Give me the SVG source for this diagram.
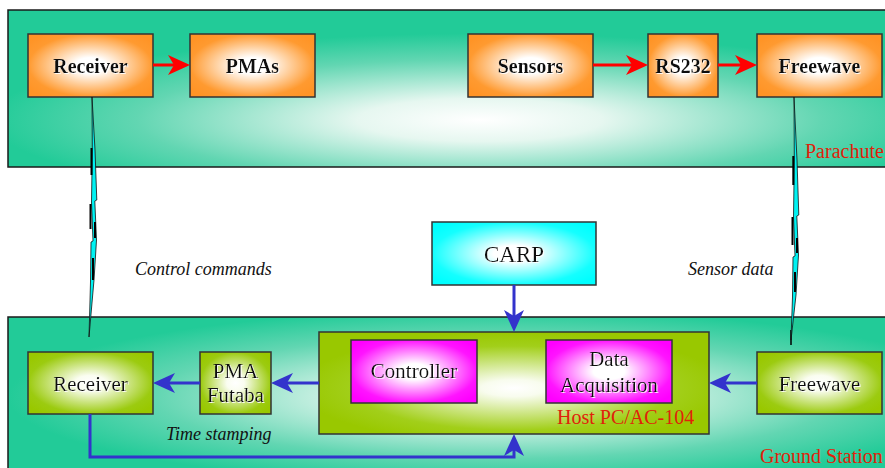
<svg xmlns="http://www.w3.org/2000/svg" width="885" height="468" viewBox="0 0 885 468">
  <style>
    .panel { stroke: #1a1a1a; stroke-width: 1.5; }
    .box { stroke: #333333; stroke-width: 1.5; }
    .bold { font-family: "Liberation Serif", "Times New Roman", serif; font-size: 20px; font-weight: bold; fill: #111111; text-anchor: middle; filter: url(#glow); }
    .lbl { font-family: "Liberation Serif", "Times New Roman", serif; font-size: 21px; fill: #111111; text-anchor: middle; filter: url(#glow); }
    .note { font-family: "Liberation Serif", "Times New Roman", serif; font-size: 18px; font-style: italic; fill: #111111; }
    .tag { font-family: "Liberation Serif", "Times New Roman", serif; font-size: 20px; fill: #e0220a; }
    .red { stroke: #ff0000; stroke-width: 3; fill: none; marker-end: url(#headRed); }
    .blue { stroke: #3333cc; stroke-width: 3; fill: none; marker-end: url(#headBlue); }
    .bolt { fill: #00f2f2; stroke: #111111; stroke-width: 0.8; stroke-linejoin: miter; }
    .shade { stroke: #000000; stroke-width: 2; }
    .wire { stroke: #000000; stroke-width: 1.5; }
  </style>
  <defs>
    <filter id="glow" x="-10%" y="-20%" width="120%" height="140%">
      <feDropShadow dx="1" dy="1" stdDeviation="0.3" flood-color="#ffffff" flood-opacity="0.9"/>
    </filter>
    <radialGradient id="gPanelTop" cx="0.53" cy="0.7" r="0.55">
      <stop offset="0" stop-color="#ffffff"/>
      <stop offset="0.25" stop-color="#e6f7f0"/>
      <stop offset="0.7" stop-color="#62d6b2"/>
      <stop offset="1" stop-color="#22cb98"/>
    </radialGradient>
    <radialGradient id="gPanelBottom" cx="0.55" cy="0.5" r="0.55">
      <stop offset="0" stop-color="#ffffff"/>
      <stop offset="0.25" stop-color="#e6f7f0"/>
      <stop offset="0.7" stop-color="#62d6b2"/>
      <stop offset="1" stop-color="#22cb98"/>
    </radialGradient>
    <radialGradient id="gOrange" cx="0.5" cy="0.5" r="0.62">
      <stop offset="0" stop-color="#ffffff"/>
      <stop offset="0.2" stop-color="#ffffff"/>
      <stop offset="0.8" stop-color="#ff9a30"/>
      <stop offset="1" stop-color="#ff9426"/>
    </radialGradient>
    <radialGradient id="gGreen" cx="0.5" cy="0.5" r="0.62">
      <stop offset="0" stop-color="#ffffff"/>
      <stop offset="0.2" stop-color="#fafdf0"/>
      <stop offset="0.8" stop-color="#9ccb10"/>
      <stop offset="1" stop-color="#99c800"/>
    </radialGradient>
    <radialGradient id="gHost" cx="0.5" cy="0.55" r="0.55">
      <stop offset="0" stop-color="#ffffff"/>
      <stop offset="0.15" stop-color="#f8fcee"/>
      <stop offset="0.75" stop-color="#a2cf1a"/>
      <stop offset="1" stop-color="#99c800"/>
    </radialGradient>
    <radialGradient id="gMagenta" cx="0.5" cy="0.5" r="0.62">
      <stop offset="0" stop-color="#ffffff"/>
      <stop offset="0.2" stop-color="#ffffff"/>
      <stop offset="0.8" stop-color="#ff14ff"/>
      <stop offset="1" stop-color="#ff00ff"/>
    </radialGradient>
    <radialGradient id="gCyan" cx="0.5" cy="0.5" r="0.62">
      <stop offset="0" stop-color="#ffffff"/>
      <stop offset="0.2" stop-color="#ffffff"/>
      <stop offset="0.8" stop-color="#14ffff"/>
      <stop offset="1" stop-color="#00ffff"/>
    </radialGradient>
    <marker id="headRed" markerUnits="userSpaceOnUse" viewBox="0 0 22 22" markerWidth="22" markerHeight="22" refX="12" refY="11" orient="auto">
      <path d="M0,1 L22,11 L0,21 L6,11 z" fill="#ff0000"/>
    </marker>
    <marker id="headBlue" markerUnits="userSpaceOnUse" viewBox="0 0 22 22" markerWidth="22" markerHeight="22" refX="12" refY="11" orient="auto">
      <path d="M0,1 L22,11 L0,21 L6,11 z" fill="#3333cc"/>
    </marker>
  </defs>

  <rect width="885" height="468" fill="#ffffff"/>

  <!-- Parachute side -->
  <g id="panel-parachute">
    <rect class="panel" x="8" y="10" width="890" height="157" fill="url(#gPanelTop)"/>
    <text class="tag" x="805" y="158">Parachute</text>
  </g>

  <!-- Ground station side -->
  <g id="panel-ground">
    <rect class="panel" x="8" y="317" width="890" height="160" fill="url(#gPanelBottom)"/>
    <text class="tag" x="760" y="463">Ground Station</text>
  </g>

  <g id="para-receiver">
    <rect class="box" x="28" y="34" width="125" height="63" fill="url(#gOrange)"/>
    <text class="bold" x="90.5" y="73">Receiver</text>
  </g>
  <g id="para-pmas">
    <rect class="box" x="190" y="34" width="125" height="63" fill="url(#gOrange)"/>
    <text class="bold" x="252.5" y="73">PMAs</text>
  </g>
  <g id="para-sensors">
    <rect class="box" x="468" y="34" width="125" height="63" fill="url(#gOrange)"/>
    <text class="bold" x="530.5" y="73">Sensors</text>
  </g>
  <g id="para-rs232">
    <rect class="box" x="648" y="34" width="70" height="63" fill="url(#gOrange)"/>
    <text class="bold" x="683" y="73">RS232</text>
  </g>
  <g id="para-freewave">
    <rect class="box" x="757" y="34" width="125" height="63" fill="url(#gOrange)"/>
    <text class="bold" x="819.5" y="73">Freewave</text>
  </g>

  <g id="carp">
    <rect class="box" x="432" y="222" width="164" height="63" fill="url(#gCyan)"/>
    <text class="lbl" x="514" y="262" style="font-size:23px">CARP</text>
  </g>

  <g id="host-pc">
    <rect class="box" x="319" y="332" width="390" height="102" fill="url(#gHost)"/>
    <text class="tag" x="557" y="424">Host PC/AC-104</text>
  </g>
  <g id="controller">
    <rect class="box" x="351" y="340" width="126" height="63" fill="url(#gMagenta)"/>
    <text class="lbl" x="414" y="378">Controller</text>
  </g>
  <g id="data-acquisition">
    <rect class="box" x="546" y="340" width="126" height="63" fill="url(#gMagenta)"/>
    <text class="lbl" x="609" y="366">Data</text>
    <text class="lbl" x="609" y="392">Acquisition</text>
  </g>

  <g id="ground-receiver">
    <rect class="box" x="28" y="352" width="125" height="62" fill="url(#gGreen)"/>
    <text class="lbl" x="90.5" y="391">Receiver</text>
  </g>
  <g id="pma-futaba">
    <rect class="box" x="200" y="352" width="71" height="62" fill="url(#gGreen)"/>
    <text class="lbl" x="235.5" y="378">PMA</text>
    <text class="lbl" x="235.5" y="402">Futaba</text>
  </g>
  <g id="ground-freewave">
    <rect class="box" x="757" y="352" width="125" height="62" fill="url(#gGreen)"/>
    <text class="lbl" x="819.5" y="391">Freewave</text>
  </g>

  <!-- Links -->
  <g id="connectors">
    <line class="red" x1="153" y1="65" x2="180" y2="65"/>
    <line class="red" x1="593" y1="65" x2="638" y2="65"/>
    <line class="red" x1="718" y1="65" x2="747" y2="65"/>

    <line class="blue" x1="514" y1="285" x2="514" y2="322"/>
    <line class="blue" x1="757" y1="383" x2="719" y2="383"/>
    <line class="blue" x1="319" y1="383" x2="281" y2="383"/>
    <line class="blue" x1="200" y1="383" x2="163" y2="383"/>
    <path class="blue" d="M90,414 V457 H514 V444"/>

    <!-- radio link: control commands -->
    <g id="radio-control">
      <polygon class="bolt" points="92,97 95,150 96.8,200 94.8,201 96.5,240 94,280 89,337 90.5,282 91,242 93,241 91.5,202 92.3,150"/>
      <line class="shade" x1="91.5" y1="148" x2="91.5" y2="175"/>
      <line class="shade" x1="90.5" y1="204" x2="90.5" y2="229"/>
      <line class="shade" x1="95" y1="222" x2="95" y2="238"/>
      <line class="shade" x1="93" y1="258" x2="93" y2="280"/>
    </g>
    <!-- radio link: sensor data -->
    <g id="radio-sensor">
      <line class="wire" x1="791" y1="330" x2="791" y2="345"/>
      <polygon class="bolt" points="794,97 797,160 798.8,215 796.8,216 798.5,255 796,295 791,340 792.5,297 793,257 795,256 793.5,217 794.3,160"/>
      <line class="shade" x1="793.3" y1="156" x2="793.3" y2="185"/>
      <line class="shade" x1="792.5" y1="217" x2="792.5" y2="245"/>
      <line class="shade" x1="797" y1="238" x2="797" y2="253"/>
      <line class="shade" x1="795" y1="272" x2="795" y2="292"/>
    </g>
  </g>

  <text class="note" x="135" y="275">Control commands</text>
  <text class="note" x="688" y="275">Sensor data</text>
  <text class="note" x="166" y="440">Time stamping</text>
</svg>
